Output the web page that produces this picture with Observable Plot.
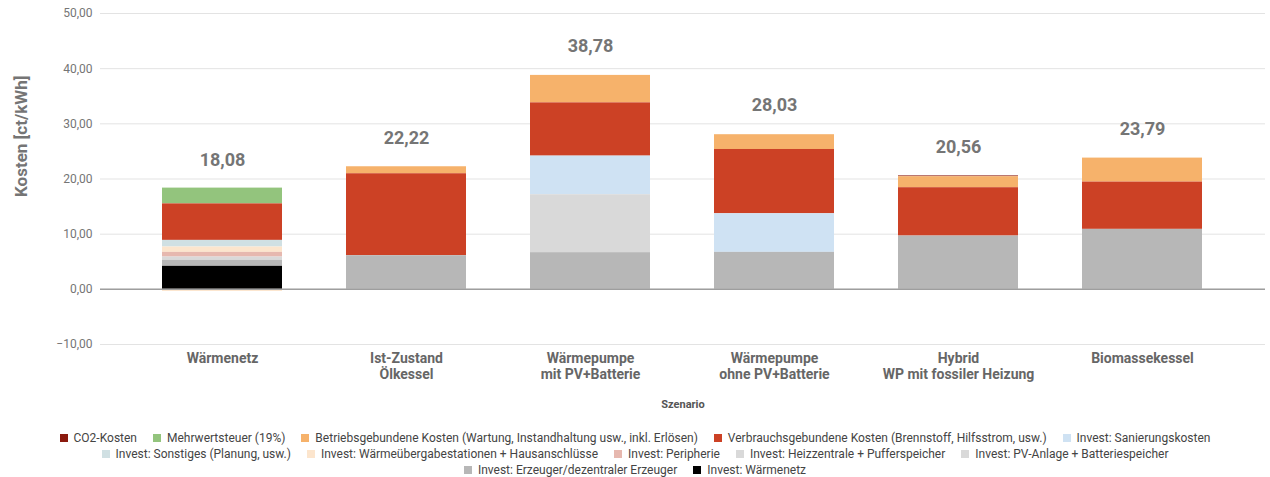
<!DOCTYPE html>
<html><head><meta charset="utf-8">
<script src="https://cdn.jsdelivr.net/npm/d3@7"></script>
<script src="https://cdn.jsdelivr.net/npm/@observablehq/plot@0.6"></script>
<style>
body{margin:0;background:#fff;font-family:Roboto,sans-serif;}
#legend{width:1270px;text-align:center;font-size:12px;color:#444;line-height:16px;margin-top:10px}
.item{display:inline-block;margin:0 8px;white-space:nowrap}
.sw{display:inline-block;width:8px;height:8px;margin-right:6px;vertical-align:0px}
</style></head><body><div id="chart"></div><div id="legend"></div>
<script>
const scenarios = ["Wärmenetz","Ist-Zustand\nÖlkessel","Wärmepumpe\nmit PV+Batterie","Wärmepumpe\nohne PV+Batterie","Hybrid\nWP mit fossiler Heizung","Biomassekessel"];
const totals = [18.08,22.22,38.78,28.03,20.56,23.79];
const yTicks = [-10,0,10,20,30,40,50];

// legend order (top of stack first)
const seriesNames = [
  "CO2-Kosten",
  "Mehrwertsteuer (19%)",
  "Betriebsgebundene Kosten (Wartung, Instandhaltung usw., inkl. Erlösen)",
  "Verbrauchsgebundene Kosten (Brennstoff, Hilfsstrom, usw.)",
  "Invest: Sanierungskosten",
  "Invest: Sonstiges (Planung, usw.)",
  "Invest: Wärmeübergabestationen + Hausanschlüsse",
  "Invest: Peripherie",
  "Invest: Heizzentrale + Pufferspeicher",
  "Invest: PV-Anlage + Batteriespeicher",
  "Invest: Erzeuger/dezentraler Erzeuger",
  "Invest: Wärmenetz"
];
const seriesColors = ["#8b1a0e","#93c47d","#f6b26b","#cc4125","#cfe2f3","#d0e0e3","#fce5cd","#e6b8af","#d9d9d9","#d9d9d9","#b7b7b7","#000000"];

const co2        = [0,0,0,0,0.15,0];
const mwst       = [2.86,0,0,0,0,0];
const betrieb    = [-0.27,1.27,4.98,2.68,1.99,4.35];
const verbrauch  = [6.62,14.85,9.65,11.65,8.76,8.57];
const sanierung  = [0,0,7.0,7.0,0,0];
const sonstiges  = [1.2,0,0,0,0,0];
const uebergabe  = [0.97,0,0,0,0,0];
const peripherie = [0.85,0,0,0,0,0];
const heizzentrale = [0.6,0,0,0,0,0];
const pvAnlage   = [0,0,10.5,0,0,0];
const erzeuger   = [1.08,6.1,6.65,6.7,9.66,10.87];
const netz       = [4.17,0,0,0,0,0];

const seriesValues = [co2,mwst,betrieb,verbrauch,sanierung,sonstiges,uebergabe,peripherie,heizzentrale,pvAnlage,erzeuger,netz];
const rows = [];
seriesNames.forEach((s,k)=>scenarios.forEach((sc,i)=>{
  if (seriesValues[k][i] !== 0) rows.push({scenario:sc, series:s, value:seriesValues[k][i]});
}));
const stackOrder = seriesNames.slice().reverse();
const fmt = v => d3.format(".2f")(v).replace(".", ",");
const totalRows = scenarios.map((s,i)=>({scenario:s, total:totals[i]}));

const chart = Plot.plot({
  width:1270, height:420, marginLeft:100, marginRight:5, marginTop:13, marginBottom:76,
  style:{fontFamily:"Roboto, sans-serif", background:"white"},
  x:{domain:scenarios, range:[130,1234], paddingInner:0.35, paddingOuter:0.175, label:null},
  y:{domain:[-10,50], label:null},
  color:{domain:seriesNames, range:seriesColors},
  marks:[
    Plot.gridY(yTicks, {stroke:"#e3e3e3", strokeOpacity:1}),
    Plot.axisY(yTicks, {tickSize:0, tickPadding:8, fontSize:12, fill:"#757575", tickFormat:fmt, label:null}),
    Plot.barY(rows, {x:"scenario", y:"value", fill:"series", order:stackOrder}),
    Plot.ruleY([0], {stroke:"#9e9e9e", strokeWidth:1.5}),
    Plot.axisX({tickSize:0, tickPadding:8, fontSize:14, fontWeight:"bold", fill:"#666", label:null, lineHeight:1.1}),
    Plot.text(totalRows, {x:"scenario", y:"total", text:d=>fmt(d.total), dy:-29, fontSize:18, fontWeight:"bold", fill:"#757575"}),
    Plot.text(["Szenario"], {frameAnchor:"bottom", dy:63, fontSize:11, fontWeight:"bold", fill:"#555"}),
    Plot.text(["Kosten [ct/kWh]"], {frameAnchor:"left", rotate:-90, dx:-79, dy:18, fontSize:17, fontWeight:"bold", fill:"#757575"})
  ]
});
document.getElementById("chart").appendChild(chart);

const legend = document.getElementById("legend");
const breaks = [4, 9];
seriesNames.forEach((s,i)=>{
  const it = document.createElement("span");
  it.className = "item";
  it.innerHTML = `<span class="sw" style="background:${seriesColors[i]}"></span>${s}`;
  legend.appendChild(it);
  if (breaks.includes(i)) legend.appendChild(document.createElement("br"));
});
</script></body></html>
